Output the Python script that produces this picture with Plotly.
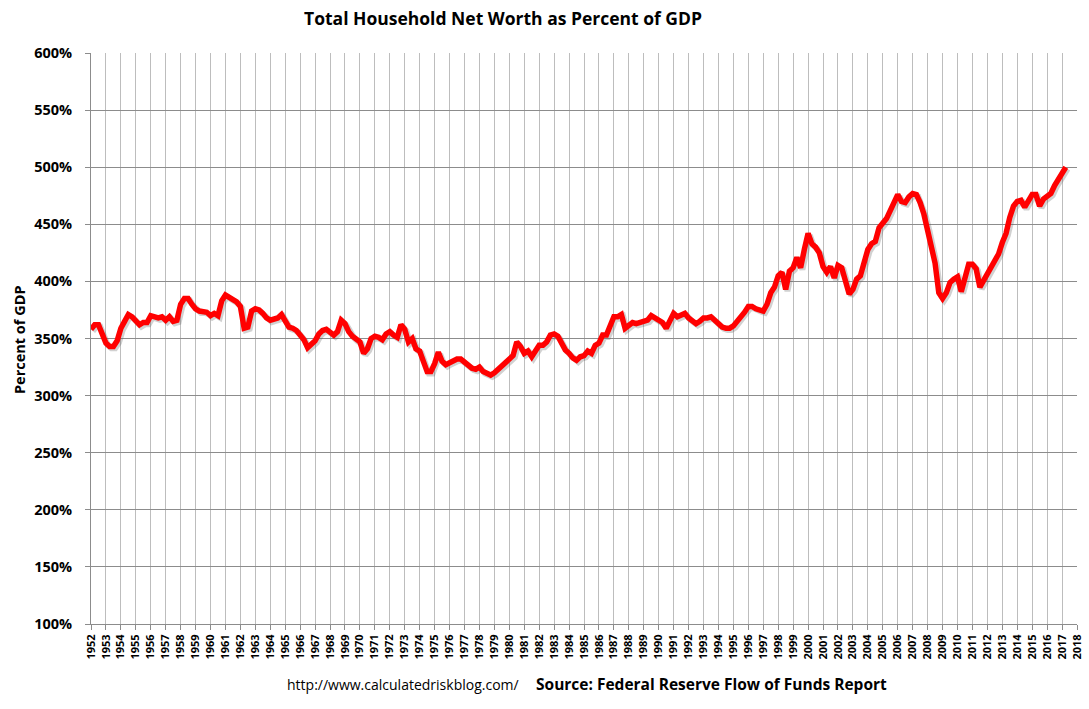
import plotly.graph_objects as go

years = list(range(1952, 2018))
# Quarterly household net worth as percent of GDP, 1952Q1 .. 2017Q2
values = [
    358, 362, 362, 353,  # 1952
    346, 343, 343, 348,  # 1953
    359, 365, 371, 369,  # 1954
    365, 362, 364, 364,  # 1955
    370, 369, 368, 369,  # 1956
    366, 369, 365, 366,  # 1957
    380, 385, 385, 380,  # 1958
    376, 374, 374, 373,  # 1959
    370, 372, 370, 383,  # 1960
    388, 386, 385, 382,  # 1961
    378, 359, 360, 374,  # 1962
    376, 375, 372, 368,  # 1963
    366, 367, 368, 371,  # 1964
    366, 360, 359, 357,  # 1965
    353, 349, 342, 345,  # 1966
    348, 354, 357, 358,  # 1967
    356, 353, 356, 366,  # 1968
    363, 356, 352, 349,  # 1969
    347, 337, 341, 350,  # 1970
    352, 351, 349, 354,  # 1971
    356, 353, 351, 362,  # 1972
    358, 347, 350, 341,  # 1973
    339, 330, 321, 321,  # 1974
    328, 338, 330, 327,  # 1975
    329, 331, 332, 332,  # 1976
    329, 326, 324, 323,  # 1977
    325, 321, 320, 318,  # 1978
    320, 323, 325, 328,  # 1979
    331, 335, 347, 343,  # 1980
    337, 339, 334, 339,  # 1981
    344, 344, 347, 353,  # 1982
    354, 352, 345, 340,  # 1983
    337, 333, 331, 334,  # 1984
    335, 339, 337, 344,  # 1985
    346, 353, 353, 360,  # 1986
    369, 369, 371, 359,  # 1987
    362, 364, 363, 364,  # 1988
    365, 366, 370, 368,  # 1989
    367, 364, 359, 366,  # 1990
    372, 369, 371, 372,  # 1991
    368, 365, 363, 365,  # 1992
    368, 368, 369, 366,  # 1993
    363, 360, 359, 359,  # 1994
    361, 365, 368, 373,  # 1995
    378, 378, 376, 375,  # 1996
    374, 380, 390, 395,  # 1997
    405, 408, 393, 409,  # 1998
    412, 421, 412, 428,  # 1999
    442, 433, 430, 425,  # 2000
    413, 408, 413, 403,  # 2001
    414, 412, 398, 389,  # 2002
    393, 402, 405, 418,  # 2003
    428, 433, 435, 447,  # 2004
    451, 455, 462, 468,  # 2005
    476, 470, 469, 474,  # 2006
    477, 476, 469, 459,  # 2007
    446, 432, 416, 390,  # 2008
    385, 390, 399, 402,  # 2009
    404, 391, 402, 415,  # 2010
    415, 411, 395, 401,  # 2011
    407, 411, 418, 424,  # 2012
    434, 442, 456, 466,  # 2013
    470, 471, 465, 470,  # 2014
    476, 476, 466, 472,  # 2015
    474, 477, 484, 490,  # 2016
    495, 500,            # 2017
]
tick_years = list(range(1952, 2019))
y_ticks = list(range(100, 601, 50))

x = [years[0] + i / 4 for i in range(len(values))]

fig = go.Figure()
# soft drop shadow
fig.add_trace(go.Scatter(
    x=[v + 0.12 for v in x], y=[v - 1.6 for v in values], mode="lines",
    line=dict(color="rgba(90,90,90,0.28)", width=6), hoverinfo="skip", showlegend=False))
fig.add_trace(go.Scatter(
    x=x, y=values, mode="lines",
    line=dict(color="#ff0000", width=5.5), showlegend=False))

font_main = "Open Sans"
L, R, T, B = 91, 12, 53, 85
pw, ph = 1089 - L - R, 709 - T - B

fig.update_layout(
    width=1089, height=709,
    margin=dict(l=L, r=R, t=T, b=B, autoexpand=False),
    paper_bgcolor="white", plot_bgcolor="white",
    title=dict(text="<b>Total Household Net Worth as Percent of GDP</b>",
               x=503 / 1089, xanchor="center", y=1 - 19 / 709, yanchor="middle",
               xref="container", yref="container",
               font=dict(family=font_main, size=17.5, color="black")),
    xaxis=dict(range=[1952, 2018], tickmode="array", tickvals=tick_years,
               ticktext=[f"<b>{t}</b>" for t in tick_years], tickangle=-90,
               tickfont=dict(family=font_main, size=11, color="black"),
               showgrid=True, gridcolor="#bdbdbd", gridwidth=1,
               showline=True, linecolor="#8c8c8c", linewidth=1,
               ticks="outside", ticklen=5, tickcolor="#8c8c8c", zeroline=False,
               automargin=False),
    yaxis=dict(range=[100, 600], tickmode="array", tickvals=y_ticks,
               ticktext=[f"<b>{t}%</b>" for t in y_ticks],
               tickfont=dict(family=font_main, size=14.5, color="black"),
               showgrid=True, gridcolor="#8c8c8c", gridwidth=1,
               showline=True, linecolor="#8c8c8c", linewidth=1,
               ticks="outside", ticklen=5, tickcolor="#8c8c8c", zeroline=False,
               ticklabelstandoff=10, automargin=False),
    annotations=[
        dict(text="<b>Percent of GDP</b>", xref="paper", yref="paper",
             x=(19 - L) / pw, y=(624 - 340) / ph, xanchor="center", yanchor="middle",
             textangle=-90, showarrow=False,
             font=dict(family=font_main, size=14.5, color="black")),
        dict(text="http://www.calculatedriskblog.com/", xref="paper", yref="paper",
             x=(521 - L) / pw, y=-(684 - 624) / ph, xanchor="right", yanchor="middle",
             showarrow=False,
             font=dict(family=font_main, size=14, color="black")),
        dict(text="<b>Source: Federal Reserve Flow of Funds Report</b>", xref="paper", yref="paper",
             x=(534 - L) / pw, y=-(684 - 624) / ph, xanchor="left", yanchor="middle",
             showarrow=False,
             font=dict(family=font_main, size=15.5, color="black")),
    ],
)

fig.write_html("out.html",
               config={"displayModeBar": False},
               post_script="document.body.style.margin='0';document.body.style.padding='0';"
                           "window.dispatchEvent(new Event('resize'));")
